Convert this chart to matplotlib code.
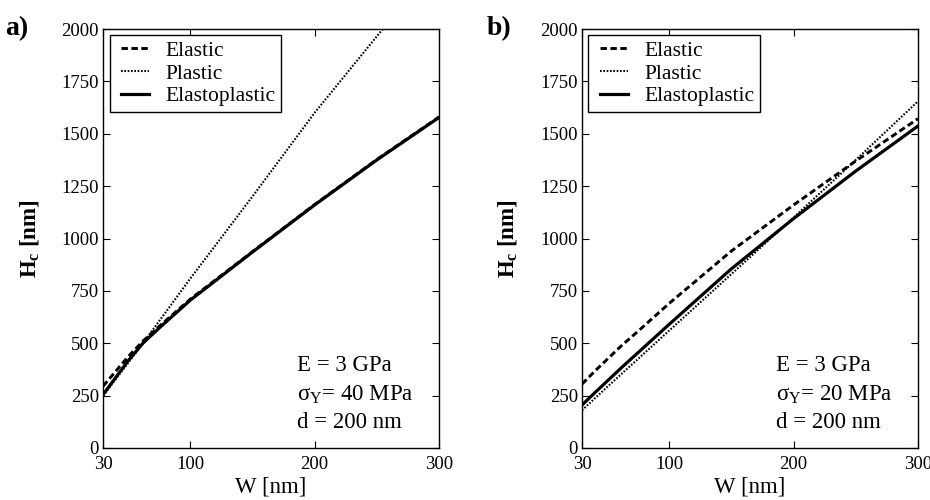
import matplotlib
matplotlib.use("Agg")
import matplotlib.pyplot as plt
from matplotlib.legend_handler import HandlerLine2D

plt.rcParams['font.family'] = ['Liberation Serif', 'DejaVu Serif']
plt.rcParams['mathtext.fontset'] = 'custom'
plt.rcParams['mathtext.rm'] = 'Liberation Serif'
plt.rcParams['mathtext.it'] = 'Liberation Serif:italic'
plt.rcParams['mathtext.bf'] = 'Liberation Serif:bold'

# W values (nm)
w = [30, 40, 50, 62, 75, 100, 150, 200, 250, 300]

# panel a) sigma_Y = 40 MPa
a_elastic = [295, 365, 435, 510, 580, 710, 937, 1162, 1377, 1580]
a_plastic = [248, 327, 405, 500, 605, 808, 1200, 1600, 1965, 2320]
a_elastoplastic = [255, 335, 415, 500, 572, 705, 935, 1160, 1375, 1578]

# panel b) sigma_Y = 20 MPa
b_elastic = [305, 365, 422, 490, 557, 690, 940, 1160, 1370, 1572]
b_plastic = [180, 235, 290, 355, 425, 560, 830, 1100, 1375, 1655]
b_elastoplastic = [205, 262, 318, 385, 455, 590, 855, 1095, 1322, 1537]

panel_labels = ['a)', 'b)']
params = [['E = 3 GPa', 'σ$_{\\rm Y}$= 40 MPa', 'd = 200 nm'],
          ['E = 3 GPa', 'σ$_{\\rm Y}$= 20 MPa', 'd = 200 nm']]
series = [(a_elastic, a_plastic, a_elastoplastic),
          (b_elastic, b_plastic, b_elastoplastic)]

fig = plt.figure(figsize=(9.3, 5), dpi=100)
lefts = [0.1108, 0.6258]
label_x = [0.006, 0.523]

for i in range(2):
    ax = fig.add_axes([lefts[i], 0.104, 0.3613, 0.838])
    el, pl, ep = series[i]
    ax.plot(w, el, color='black', lw=2.1, linestyle=(0, (2.2, 1.2)), label='Elastic')
    ax.plot(w, pl, color='black', lw=1.5, linestyle=(0, (0.8, 0.8)), label='Plastic')
    ax.plot(w, ep, color='black', lw=2.3, linestyle='-', label='Elastoplastic')

    ax.set_xlim(30, 300)
    ax.set_ylim(0, 2000)
    ax.set_xticks([30, 100, 200, 300])
    ax.set_yticks(range(0, 2001, 250))
    ax.tick_params(direction='in', top=True, right=True, length=5, width=0.8,
                   labelsize=13.5)
    ax.tick_params(axis='x', pad=6)
    ax.tick_params(axis='y', pad=3)
    for s in ax.spines.values():
        s.set_linewidth(1.0)

    ax.set_xlabel('W [nm]', fontsize=16.5, labelpad=2)
    ax.set_ylabel(r'$\mathbf{H_c}$ [nm]', fontsize=16.5, fontweight='bold', labelpad=15)

    leg = ax.legend(loc='upper left', fontsize=15.5, frameon=True, fancybox=False,
                    edgecolor='black', framealpha=1, borderaxespad=0.3,
                    handlelength=1.9, handletextpad=0.45, labelspacing=0.12,
                    borderpad=0.25, numpoints=2,
                    handler_map={plt.Line2D: HandlerLine2D(marker_pad=0.3)})
    leg.get_frame().set_linewidth(1.0)

    for k, t in enumerate(params[i]):
        ax.text(0.578, 0.196 - k * 0.068, t, transform=ax.transAxes,
                fontsize=16.5, va='center', ha='left')

    fig.text(label_x[i], 0.93, panel_labels[i], fontsize=20, fontweight='bold')

fig.savefig('out.png', dpi=100)
